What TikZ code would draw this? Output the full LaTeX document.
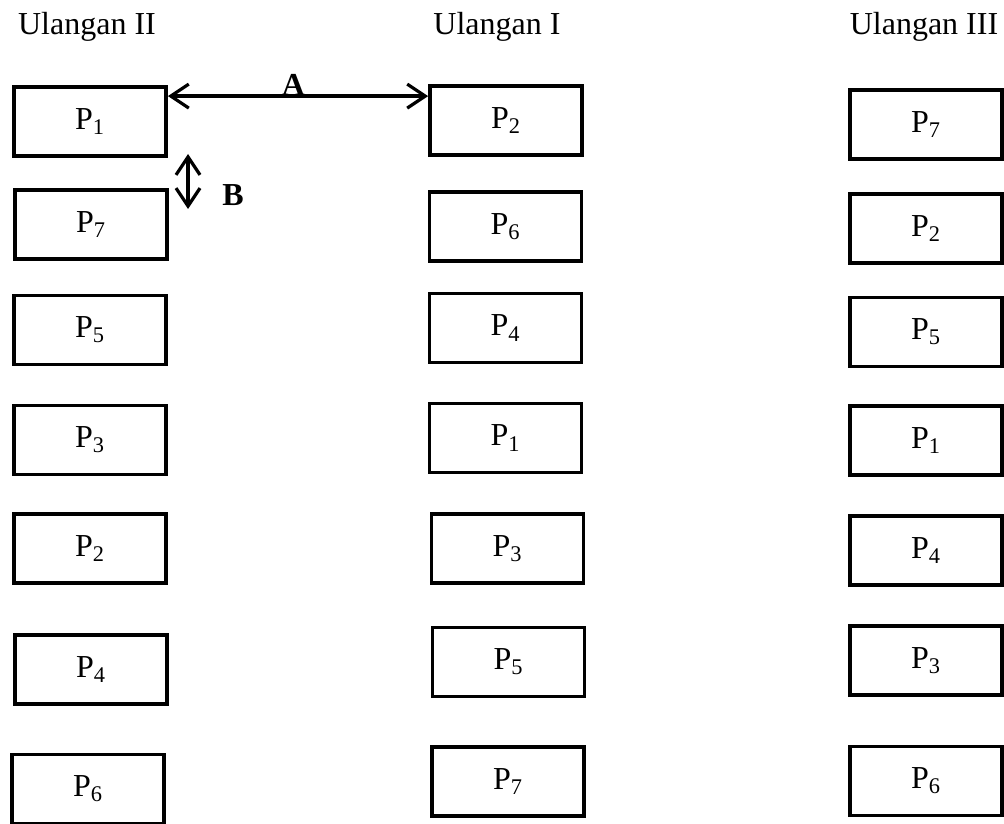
\documentclass[tikz,border=0pt]{standalone}
\usepackage{fontspec}
\setmainfont{Liberation Serif}
\usepackage{tikz}
\usetikzlibrary{calc}
\usetikzlibrary{positioning}
\usetikzlibrary{arrows.meta}
\tikzstyle{box} = [rectangle, draw=black, line width=1.9pt, minimum width=76pt, minimum height=34.5pt]
\tikzstyle{arrow} = [line width=1.6pt, <->, >={Straight Barb[length=9pt,width=12pt,line width=1.6pt]}]
\tikzstyle{head} = [anchor=base]

\begin{document}
\begin{tikzpicture}[x=0.5pt, y=-0.5pt, font=\fontsize{16}{19}\selectfont]
\useasboundingbox (0,0) rectangle (1004,823);

	\node (headII) [head] at (87,35) {Ulangan II};
	\node (headI) [head] at (497,35) {Ulangan I};
	\node (headIII) [head] at (924,35) {Ulangan III};

% Ulangan II
\node (u2p1) [box] at (90,121.5) {P\textsubscript{1}};
\node (u2p7) [box] at (91,224.5) {P\textsubscript{7}};
\node (u2p5) [box] at (90,330) {P\textsubscript{5}};
\node (u2p3) [box] at (90,440) {P\textsubscript{3}};
\node (u2p2) [box] at (90,548.5) {P\textsubscript{2}};
\node (u2p4) [box] at (91,669.5) {P\textsubscript{4}};
\node (u2p6) [box] at (88,789) {P\textsubscript{6}};

% Ulangan I
\node (u1p2) [box] at (506,120.5) {P\textsubscript{2}};
\node (u1p6) [box] at (505.5,226.5) {P\textsubscript{6}};
\node (u1p4) [box] at (505.5,328) {P\textsubscript{4}};
\node (u1p1) [box] at (505.5,438) {P\textsubscript{1}};
\node (u1p3) [box] at (507.5,548.5) {P\textsubscript{3}};
\node (u1p5) [box] at (508.5,662) {P\textsubscript{5}};
\node (u1p7) [box] at (508,781.5) {P\textsubscript{7}};

% Ulangan III
\node (u3p7) [box] at (926,124.5) {P\textsubscript{7}};
\node (u3p2) [box] at (926,228.5) {P\textsubscript{2}};
\node (u3p5) [box] at (926,332) {P\textsubscript{5}};
\node (u3p1) [box] at (926,440.5) {P\textsubscript{1}};
\node (u3p4) [box] at (926,550.5) {P\textsubscript{4}};
\node (u3p3) [box] at (926,660.5) {P\textsubscript{3}};
\node (u3p6) [box] at (926,781) {P\textsubscript{6}};

% jarak A dan B
\coordinate (aleft) at ($(u2p1.north east)+(0,11)$);
\coordinate (btop) at (188,154);
\coordinate (bbot) at (188,209);
\draw [arrow] (aleft) -- (aleft -| u1p2.west);
\draw [arrow] (btop) -- (bbot);
\node (labelA) [head] at (293.5,95.5) {\textbf{A}};
\node (labelB) [head] at (233,206) {\textbf{B}};
\end{tikzpicture}
\end{document}
